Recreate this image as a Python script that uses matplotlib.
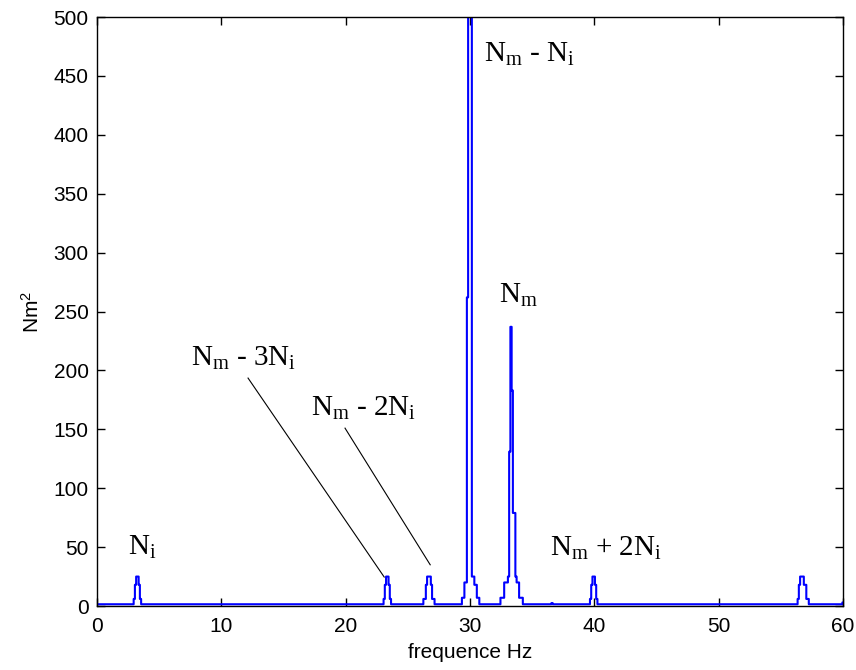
import matplotlib
matplotlib.use('Agg')
import matplotlib.pyplot as plt
import numpy as np

plt.rcParams['font.family'] = ['Liberation Sans', 'DejaVu Sans']
plt.rcParams['mathtext.fontset'] = 'custom'
plt.rcParams['mathtext.rm'] = 'Liberation Serif'
plt.rcParams['mathtext.it'] = 'Liberation Serif:italic'
plt.rcParams['mathtext.sf'] = 'Liberation Sans'

# spectrum bins (Hz) and amplitudes (Nm^2)
baseline = 1.5
ni_f = [3.0, 3.1, 3.2, 3.3, 3.4, 3.5]
ni_a = [6, 18, 25, 25, 18, 6]
m3_f = [23.1, 23.2, 23.3, 23.4, 23.5, 23.6]
m3_a = [6, 18, 25, 25, 18, 6]
m2_f = [26.3, 26.4, 26.5, 26.6, 26.7, 26.8, 26.9, 27.0, 27.1]
m2_a = [6, 6, 18, 25, 25, 25, 18, 6, 6]
m1_f = [29.4, 29.5, 29.6, 29.7, 29.8, 29.9, 30.0, 30.1, 30.2, 30.3, 30.4, 30.5, 30.6, 30.7]
m1_a = [7, 7, 20, 20, 262, 560, 560, 560, 25, 25, 18, 18, 7, 7]
nm_f = [32.5, 32.6, 32.7, 32.8, 32.9, 33.0, 33.1, 33.2, 33.3, 33.4, 33.5, 33.6,
        33.7, 33.8, 33.9, 34.0, 34.1, 34.2]
nm_a = [7, 7, 7, 20, 20, 20, 25, 131, 237, 183, 79, 79, 25, 20, 20, 7, 7, 7]
sm_f = [36.6]
sm_a = [2.5]
p2_f = [39.7, 39.8, 39.9, 40.0, 40.1, 40.2]
p2_a = [6, 18, 25, 25, 18, 6]
hi_f = [56.4, 56.5, 56.6, 56.7, 56.8, 56.9, 57.0, 57.1, 57.2]
hi_a = [6, 18, 25, 25, 25, 18, 18, 6, 6]
end_f = [60.0]
end_a = [3]

freq = np.round(np.arange(0, 600.5) / 10, 1)
amp = np.full(freq.shape, baseline)
for fs, vs in [(ni_f, ni_a), (m3_f, m3_a), (m2_f, m2_a), (m1_f, m1_a), (nm_f, nm_a),
               (sm_f, sm_a), (p2_f, p2_a), (hi_f, hi_a), (end_f, end_a)]:
    for f, v in zip(fs, vs):
        amp[np.argmin(np.abs(freq - f))] = v

fig = plt.figure(figsize=(8.56, 6.70), dpi=100)
ax = fig.add_axes([0.1133, 0.0955, 0.8715, 0.8791])
ax.plot(freq, amp, color='#0000ff', lw=1.5, drawstyle='steps-mid')

ax.set_xlim(0, 60)
ax.set_ylim(0, 500)
ax.set_xticks(np.arange(0, 61, 10))
ax.set_yticks(np.arange(0, 501, 50))
ax.tick_params(direction='in', length=6, width=1, labelsize=15,
               top=True, right=True)
ax.tick_params(axis='x', pad=8)
ax.tick_params(axis='y', pad=6)
for s in ax.spines.values():
    s.set_linewidth(1)
ax.set_xlabel('frequence Hz', fontsize=15, labelpad=5)
ax.set_ylabel(r'Nm$^\mathsf{2}$', fontsize=15, labelpad=8)

# peak labels
lab = dict(fontsize=21, va='center', ha='left', color='black',
           fontfamily='Liberation Serif')
ax.text(31.1, 468, r'$\mathrm{N_m}$ - $\mathrm{N_i}$', **lab)
ax.text(32.3, 264, r'$\mathrm{N_m}$', **lab)
ax.text(7.6, 210, r'$\mathrm{N_m}$ - 3$\mathrm{N_i}$', **lab)
ax.text(17.2, 168, r'$\mathrm{N_m}$ - 2$\mathrm{N_i}$', **lab)
ax.text(2.5, 50, r'$\mathrm{N_i}$', **lab)
ax.text(36.4, 49, r'$\mathrm{N_m}$ + 2$\mathrm{N_i}$', **lab)

ax.plot([12.15, 23.1], [193.5, 24.6], color='black', lw=0.8)
ax.plot([19.95, 26.8], [151, 35], color='black', lw=0.8)

fig.savefig('out.png', dpi=100)
